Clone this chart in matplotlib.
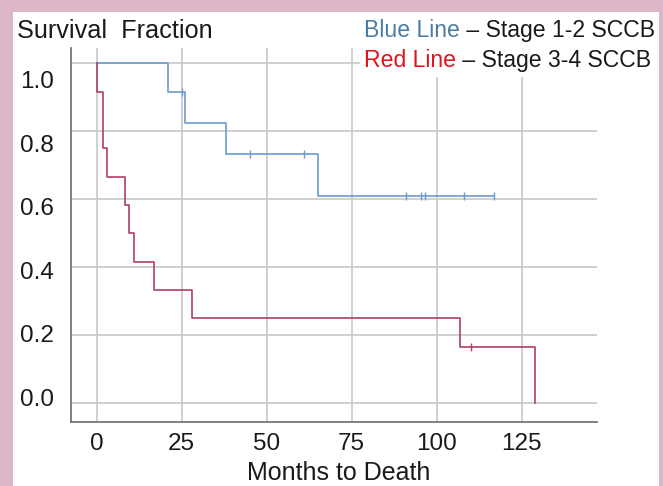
import matplotlib
matplotlib.use("Agg")
import matplotlib.pyplot as plt
from matplotlib.patches import Rectangle
from matplotlib.text import Annotation

plt.rcParams['font.family'] = ['Liberation Sans', 'DejaVu Sans']

# Kaplan-Meier steps (months, survival fraction)
blue_times = [0, 21, 26, 38, 65, 117]
blue_surv = [1.0, 0.917, 0.825, 0.733, 0.611, 0.611]
blue_cens_times = [25, 45, 61, 91, 95.5, 96.5, 108, 117]
blue_cens_surv = [0.917, 0.733, 0.733, 0.611, 0.611, 0.611, 0.611, 0.611]

red_times = [0, 0, 2, 3, 8.5, 9.5, 11, 17, 28, 107, 129]
red_surv = [1.0, 0.917, 0.75, 0.667, 0.583, 0.5, 0.417, 0.333, 0.25, 0.167, 0.0]
red_cens_times = [110]
red_cens_surv = [0.167]

x_ticks = [0, 25, 50, 75, 100, 125]
y_ticks = [0.0, 0.2, 0.4, 0.6, 0.8, 1.0]
y_labels = ['0.0', '0.2', '0.4', '0.6', '0.8', '1.0']

BLUE = '#6a9bd1'
RED = '#b04060'
GRID = '#c8c8c8'

W, H = 663, 486
fig = plt.figure(figsize=(W / 100, H / 100), dpi=100)
fig.patch.set_facecolor('#dbb7c8')
# white card inside the pink frame
fig.add_artist(Rectangle((13 / W, 0), (659 - 13) / W, 1 - 12 / H,
                         transform=fig.transFigure, facecolor='white',
                         edgecolor='none', zorder=-10))

ax = fig.add_axes([71 / W, (H - 421.7) / H, (597 - 71) / W, (421.7 - 48) / H])
ax.set_facecolor('white')

for v in y_ticks:
    ax.axhline(v, color=GRID, lw=1.2, zorder=0)
for v in x_ticks:
    ax.axvline(v, color=GRID, lw=1.2, zorder=0)

ax.step(blue_times, blue_surv, where='post', color=BLUE, lw=1.2, zorder=3)
ax.step(red_times, red_surv, where='post', color=RED, lw=1.2, zorder=3)
ax.plot(blue_cens_times, blue_cens_surv, ls='none', marker='|', ms=6,
        mew=1.0, color=BLUE, zorder=3)
ax.plot(red_cens_times, red_cens_surv, ls='none', marker='|', ms=6,
        mew=1.0, color=RED, zorder=3)

ax.set_xlim(-7.5, 147.2)
ax.set_ylim(-0.054, 1.045)

# the y labels in the original sit a bit off their gridlines
ax.set_yticks([0.0185 + v * 0.9335 for v in y_ticks], y_labels)
ax.set_xticks(x_ticks, [str(v) for v in x_ticks])
ax.tick_params(axis='both', length=0, labelsize=17.5, colors='#1a1a1a')
ax.tick_params(axis='y', pad=12.5)
ax.tick_params(axis='x', pad=8)

for s in ['top', 'right']:
    ax.spines[s].set_visible(False)
for s in ['left', 'bottom']:
    ax.spines[s].set_color('#777777')
    ax.spines[s].set_linewidth(1.3)

fig.text(17 / W, 1 - 38.3 / H, 'Survival  Fraction', fontsize=18.2,
         color='#1a1a1a', va='baseline', ha='left')
fig.text(339 / W, 1 - 480 / H, 'Months to Death', fontsize=18,
         color='#1a1a1a', va='baseline', ha='center')

# legend block with white background over the gridlines
fig.add_artist(Rectangle((360 / W, 1 - 77 / H), (659 - 360) / W, 65 / H,
                         transform=fig.transFigure, facecolor='white',
                         edgecolor='none', zorder=1.5))

legend_rows = [('Blue Line', '#4a7ca4', ' – Stage 1-2 SCCB', 36.7),
               ('Red Line', '#e0141e', ' – Stage 3-4 SCCB', 66.7)]
for word, col, rest, base in legend_rows:
    t1 = fig.text(364 / W, 1 - base / H, word, fontsize=16.6, color=col,
                  va='baseline', ha='left', zorder=3)
    a = Annotation(rest, xy=(1, 0), xycoords=t1, va='bottom', ha='left',
                   fontsize=16.6, color='#1a1a1a', zorder=3)
    fig.add_artist(a)

fig.savefig('out.png', dpi=100)
